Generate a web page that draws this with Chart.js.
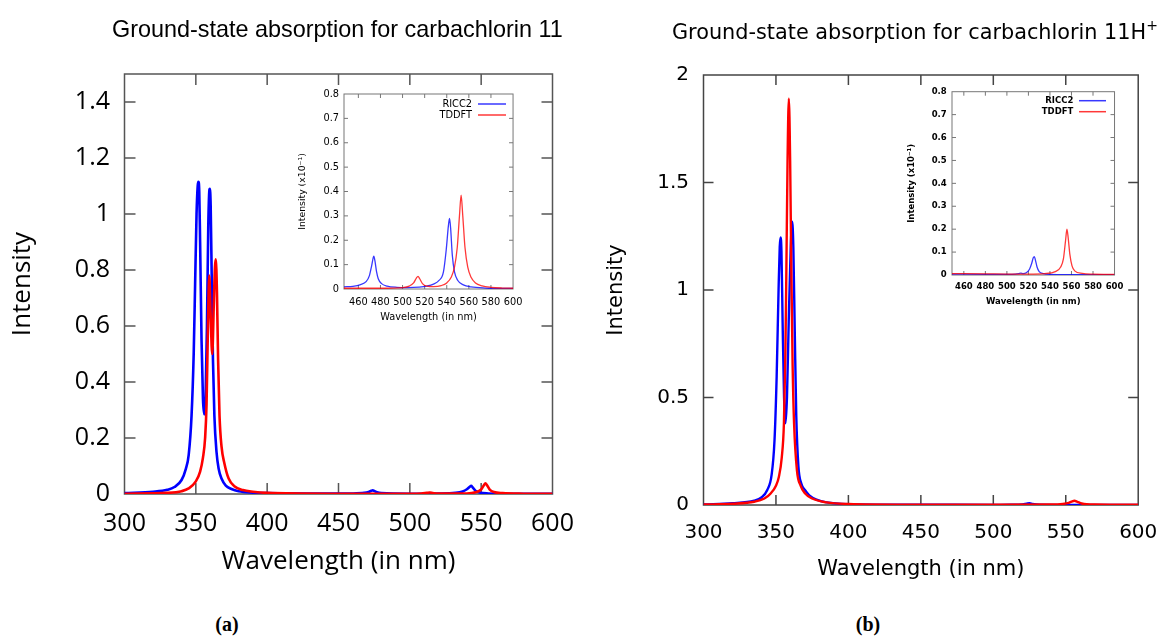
<!DOCTYPE html>
<html>
<head>
<meta charset="utf-8">
<script src="https://cdn.jsdelivr.net/npm/chart.js@4.4.1/dist/chart.umd.min.js"></script>
<style>
  html, body { margin: 0; padding: 0; background: #fff; }
  #wrap { position: relative; width: 1173px; height: 636px; overflow: hidden; background: #fff; }
  canvas { position: absolute; }
  .t { position: absolute; white-space: nowrap; color: #000; }
</style>
</head>
<body>
<div id="wrap">
  <canvas id="mainA" width="600" height="600" style="left:0px;top:0px"></canvas>
  <canvas id="insetA" width="240" height="246" style="left:290px;top:82px"></canvas>
  <canvas id="mainB" width="573" height="600" style="left:600px;top:0px"></canvas>
  <canvas id="insetB" width="232" height="232" style="left:898px;top:80px"></canvas>
  <div class="t" style="left:112px;top:17.7px;font:23.4px/23.4px 'Liberation Sans',Arial,sans-serif;">Ground-state absorption for carbachlorin 11</div>
  <div class="t" style="left:672px;top:22.4px;font:20.8px/20.8px 'DejaVu Sans',sans-serif;">Ground-state absorption for carbachlorin 11H<span style="position:relative;top:-9px;font-size:14px;">+</span></div>
  <div class="t" style="left:197px;width:60px;text-align:center;top:614px;font:bold 20px/20px 'Liberation Serif',serif;">(a)</div>
  <div class="t" style="left:838px;width:60px;text-align:center;top:614px;font:bold 20px/20px 'Liberation Serif',serif;">(b)</div>
</div>
<script>
// ---------------- DATA ----------------
// Panel (a): carbachlorin 11, main plot
const aRiccWl  = [300,320,330,335,340,343,345,347,348.5,349.5,350.5,351.3,351.8,352.4,353,354,355,355.8,356.8,357.8,358.7,359.3,359.8,360.4,361.2,362,363,364.5,366,368,371,375,380,390,400,440,460,468,471,473,474,475,477,480,500,520,532,537,540,542,543,544,546,549,555,570,600];
const aRiccVal = [0.003,0.008,0.015,0.025,0.05,0.09,0.14,0.28,0.5,0.75,1.0,1.1,1.115,1.08,0.9,0.55,0.34,0.285,0.34,0.6,0.95,1.07,1.09,1.03,0.75,0.48,0.28,0.15,0.09,0.055,0.03,0.018,0.01,0.005,0.003,0.0015,0.002,0.004,0.007,0.0115,0.0135,0.011,0.006,0.003,0.001,0.0015,0.004,0.009,0.017,0.026,0.029,0.024,0.012,0.005,0.002,0.001,0.0005];
const aTddftWl  = [300,330,340,345,350,353,355,356.5,357.5,358.5,359.4,360.3,361.5,362.6,363.4,364,364.8,365.6,366.6,368,370,373,377,383,390,400,450,500,508,512,514,516,520,540,546,550,552,553,554,556,559,565,580,600];
const aTddftVal = [0.001,0.004,0.01,0.02,0.045,0.08,0.13,0.2,0.32,0.6,0.78,0.65,0.5,0.68,0.81,0.838,0.72,0.48,0.28,0.17,0.11,0.055,0.028,0.014,0.008,0.004,0.001,0.0008,0.0015,0.004,0.0052,0.0035,0.0012,0.002,0.006,0.016,0.032,0.0385,0.032,0.016,0.007,0.003,0.001,0.0005];
// Panel (a) inset (intensity x10^-1)
const aInRiccWl  = [447,455,462,467,470,472,473.5,474,475,476.5,478,481,486,495,505,515,522,528,533,537,539.5,541.5,542.5,543.5,545,547,550,555,562,575,590,600];
const aInRiccVal = [0.009,0.011,0.018,0.03,0.055,0.095,0.13,0.135,0.115,0.07,0.042,0.022,0.012,0.007,0.006,0.008,0.012,0.02,0.035,0.07,0.16,0.26,0.29,0.25,0.14,0.07,0.035,0.017,0.009,0.004,0.002,0.002];
const aInTddftWl  = [447,480,500,506,510,512.5,514,515.5,518,522,528,535,540,544,547,549.5,551.5,553,554.5,556.5,559,562,566,572,580,590,600];
const aInTddftVal = [0.003,0.003,0.006,0.012,0.025,0.045,0.052,0.042,0.022,0.012,0.01,0.014,0.025,0.048,0.09,0.17,0.3,0.385,0.3,0.17,0.09,0.048,0.025,0.013,0.007,0.004,0.003];

// Panel (b): carbachlorin 11H+, main plot
const bRiccWl  = [300,320,335,340,344,347,349,350.5,351.8,352.6,353.2,353.8,354.6,355.6,356.6,357.6,358.8,360.2,361.2,362,363,364,365.5,367.5,370,373,378,385,400,450,505,512,520,523,525,527,532,560,600];
const bRiccVal = [0.003,0.008,0.02,0.035,0.07,0.14,0.3,0.6,1.0,1.2,1.245,1.18,0.85,0.5,0.38,0.5,0.85,1.2,1.318,1.2,0.8,0.42,0.18,0.1,0.07,0.045,0.025,0.012,0.004,0.001,0.0008,0.0012,0.003,0.006,0.008,0.005,0.0015,0.0005,0.0003];
const bTddftWl  = [300,320,335,342,346.5,350,352,354,355.5,356.5,357.2,358,358.9,359.8,360.6,361.5,362.5,364.5,367,370,375,385,400,450,500,540,548,552,554,556,558,561,570,600];
const bTddftVal = [0.002,0.006,0.015,0.03,0.055,0.09,0.13,0.22,0.38,0.7,1.1,1.6,1.89,1.6,1.1,0.65,0.38,0.16,0.09,0.055,0.03,0.012,0.005,0.0015,0.001,0.002,0.005,0.01,0.016,0.02,0.015,0.007,0.002,0.001];
// Panel (b) inset (intensity x10^-1)
const bInRiccWl  = [449,480,500,508,511,513,515,518,521,523,524.5,525.5,526.5,528,530,534,540,560,600];
const bInRiccVal = [0.004,0.003,0.003,0.004,0.006,0.008,0.006,0.01,0.025,0.05,0.075,0.08,0.065,0.035,0.015,0.006,0.003,0.002,0.001];
const bInTddftWl  = [449,480,500,520,535,545,550,552.5,554.5,555.8,557,558.5,560.5,563,570,580,600];
const bInTddftVal = [0.006,0.005,0.004,0.004,0.006,0.015,0.035,0.07,0.15,0.2,0.16,0.09,0.04,0.018,0.007,0.004,0.003];

// Tick values
const mainXTicks = [300,350,400,450,500,550,600];
const aMainYTicks = [0,0.2,0.4,0.6,0.8,1,1.2,1.4];
const bMainYTicks = [0,0.5,1,1.5,2];
const insetXTicks = [460,480,500,520,540,560,580,600];
const insetYTicks = [0,0.1,0.2,0.3,0.4,0.5,0.6,0.7,0.8];

// Labels
const seriesNames = ['RICC2','TDDFT'];
const xTitle = 'Wavelength (in nm)';
const mainYTitle = 'Intensity';
const insetYTitle = 'Intensity (x10\u207B\u00B9)';

// ---------------- PLUGINS ----------------
const frameTicks = {
  id: 'frameTicks',
  beforeDatasetsDraw(chart, args, o) {
    const {ctx, chartArea: a} = chart;
    const x = chart.scales.x, y = chart.scales.y;
    ctx.save();
    ctx.strokeStyle = o.color;
    ctx.lineWidth = o.width;
    ctx.strokeRect(a.left, a.top, a.right - a.left, a.bottom - a.top);
    ctx.beginPath();
    x.ticks.forEach(t => {
      const p = x.getPixelForValue(t.value);
      if (p <= a.left + 1 || p >= a.right - 1) return;
      ctx.moveTo(p, a.bottom); ctx.lineTo(p, a.bottom - o.len);
      ctx.moveTo(p, a.top); ctx.lineTo(p, a.top + o.len);
    });
    y.ticks.forEach(t => {
      const p = y.getPixelForValue(t.value);
      if (p <= a.top + 1 || p >= a.bottom - 1) return;
      ctx.moveTo(a.left, p); ctx.lineTo(a.left + o.len, p);
      ctx.moveTo(a.right, p); ctx.lineTo(a.right - o.len, p);
    });
    ctx.stroke();
    ctx.restore();
  }
};

const insetLegend = {
  id: 'insetLegend',
  afterDraw(chart, args, o) {
    const ctx = chart.ctx;
    ctx.save();
    chart.data.datasets.forEach((ds, i) => {
      const yy = o.y + i * o.dy;
      ctx.font = o.font;
      ctx.fillStyle = '#000';
      ctx.textAlign = 'right';
      ctx.textBaseline = 'middle';
      ctx.fillText(ds.label, o.x, yy);
      ctx.strokeStyle = ds.borderColor;
      ctx.lineWidth = o.lw;
      ctx.beginPath();
      ctx.moveTo(o.x1, yy); ctx.lineTo(o.x2, yy);
      ctx.stroke();
    });
    ctx.restore();
  }
};

// ---------------- CHART FACTORY ----------------
function spectrum(id, o) {
  const mk = (wl, val) => wl.map((w, k) => ({x: w, y: val[k]}));
  return new Chart(document.getElementById(id), {
    type: 'line',
    data: {
      datasets: [
        { label: seriesNames[0], data: mk(o.blue[0], o.blue[1]), borderColor: o.blueColor, borderWidth: o.lw,
          pointRadius: 0, fill: false, cubicInterpolationMode: 'monotone', order: 1 },
        { label: seriesNames[1], data: mk(o.red[0], o.red[1]), borderColor: o.redColor, borderWidth: o.lw,
          pointRadius: 0, fill: false, cubicInterpolationMode: 'monotone', order: 0 }
      ]
    },
    plugins: [frameTicks, insetLegend],
    options: {
      responsive: false, animation: false, devicePixelRatio: 1,
      layout: { padding: o.pad },
      plugins: {
        legend: { display: false }, tooltip: { enabled: false }, title: { display: false },
        frameTicks: o.frame,
        insetLegend: o.legend || false
      },
      scales: {
        x: {
          type: 'linear', min: o.xMin, max: 600,
          afterBuildTicks: s => { s.ticks = o.xTicks.map(v => ({value: v})); },
          afterFit: s => { s.height = o.xH; },
          grid: { display: false, drawTicks: false }, border: { display: false },
          ticks: { padding: o.xPad, font: o.tickFont, color: '#000', maxRotation: 0, autoSkip: false, callback: v => String(v) },
          title: { display: true, text: xTitle, font: o.titleFont, color: '#000', padding: { top: 0, bottom: o.xTitlePad } }
        },
        y: {
          type: 'linear', min: 0, max: o.yMax,
          afterBuildTicks: s => { s.ticks = o.yTicks.map(v => ({value: v})); },
          afterFit: s => { s.width = o.yW; },
          grid: { display: false, drawTicks: false }, border: { display: false },
          ticks: { padding: o.yPad, font: o.tickFont, color: '#000', autoSkip: false, callback: v => String(v) },
          title: { display: true, text: o.yTitle, font: o.yTitleFont || o.titleFont, color: '#000', padding: { top: o.yTitlePad, bottom: 0 } }
        }
      }
    }
  });
}

// Panel (a) main
spectrum('mainA', {
  blue: [aRiccWl, aRiccVal], red: [aTddftWl, aTddftVal],
  blueColor: '#0000ff', redColor: '#ff0000', lw: 2.6,
  pad: { left: 0, top: 74, right: 47.5, bottom: 0 },
  xMin: 300, yMax: 1.5, xTicks: mainXTicks, yTicks: aMainYTicks,
  xH: 106, yW: 124.5, xPad: 14.5, yPad: 14.5, xTitlePad: 22.4, yTitlePad: 6.8,
  tickFont: { family: "'Open Sans', sans-serif", size: 25 },
  titleFont: { family: "'Open Sans', sans-serif", size: 26 },
  yTitle: mainYTitle,
  frame: { color: '#555', width: 1.5, len: 11 }
});

// Panel (a) inset
spectrum('insetA', {
  blue: [aInRiccWl, aInRiccVal], red: [aInTddftWl, aInTddftVal],
  blueColor: 'rgba(0,0,255,0.78)', redColor: 'rgba(255,0,0,0.78)', lw: 1.3,
  pad: { left: 0, top: 12, right: 12, bottom: 0 },
  xMin: 447, yMax: 0.8, xTicks: insetXTicks, yTicks: insetYTicks,
  xH: 39, yW: 54, xPad: 7.6, yPad: 5, xTitlePad: 4.8, yTitlePad: 7.5,
  tickFont: { family: "'DejaVu Sans', sans-serif", size: 9.8 },
  titleFont: { family: "'DejaVu Sans', sans-serif", size: 9.8 },
  yTitleFont: { family: "'DejaVu Sans', sans-serif", size: 9.3 },
  yTitle: insetYTitle,
  frame: { color: '#777', width: 1, len: 4 },
  legend: { x: 182, y: 22, dy: 11, x1: 188, x2: 216, lw: 1.5, font: "9.8px 'DejaVu Sans', sans-serif" }
});

// Panel (b) main
spectrum('mainB', {
  blue: [bRiccWl, bRiccVal], red: [bTddftWl, bTddftVal],
  blueColor: '#0000ff', redColor: '#ff0000', lw: 2.4,
  pad: { left: 0, top: 75, right: 33, bottom: 0 },
  xMin: 300, yMax: 2, xTicks: mainXTicks, yTicks: bMainYTicks,
  xH: 95, yW: 103.5, xPad: 15.7, yPad: 14.5, xTitlePad: 17.4, yTitlePad: 4,
  tickFont: { family: "'DejaVu Sans', sans-serif", size: 20 },
  titleFont: { family: "'DejaVu Sans', sans-serif", size: 21 },
  yTitle: mainYTitle,
  frame: { color: '#444', width: 1.5, len: 10 }
});

// Panel (b) inset
spectrum('insetB', {
  blue: [bInRiccWl, bInRiccVal], red: [bInTddftWl, bInTddftVal],
  blueColor: 'rgba(0,0,255,0.78)', redColor: 'rgba(255,0,0,0.78)', lw: 1.3,
  pad: { left: 0, top: 11.7, right: 12.7, bottom: 0 },
  xMin: 449, yMax: 0.8, xTicks: insetXTicks, yTicks: insetYTicks,
  xH: 37, yW: 54, xPad: 6.6, yPad: 5.3, xTitlePad: 4.9, yTitlePad: 9,
  tickFont: { family: "'DejaVu Sans', sans-serif", size: 8.5, weight: 'bold' },
  titleFont: { family: "'DejaVu Sans', sans-serif", size: 8.5, weight: 'bold' },
  yTitle: insetYTitle,
  frame: { color: '#777', width: 1, len: 4 },
  legend: { x: 175.3, y: 20.7, dy: 11, x1: 181, x2: 208, lw: 1.5, font: "bold 8.5px 'DejaVu Sans', sans-serif" }
});
</script>
</body>
</html>
